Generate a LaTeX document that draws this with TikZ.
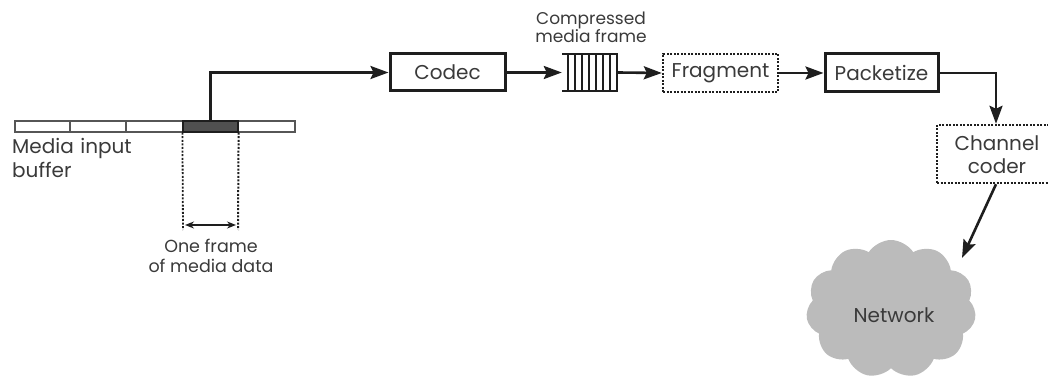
\documentclass[tikz,border=0pt]{standalone}
\usepackage{fontspec}
\setmainfont{Poppins}
\usetikzlibrary{arrows.meta,shapes.symbols}
\definecolor{ink}{HTML}{1E1E1E}
\definecolor{txt}{HTML}{3A3A3A}
\definecolor{cloudgray}{HTML}{BBBBBB}
\begin{document}
\begin{tikzpicture}[x=1pt,y=-1pt,
  every node/.style={text=txt, font=\fontsize{20}{22}\selectfont, inner sep=0pt},
  arr/.style={draw=ink, line width=2.6pt, -{Stealth[length=18pt,width=13pt,inset=3pt]}},
  solidbox/.style={draw=ink, line width=3pt, rectangle},
  dotbox/.style={draw=ink, line width=2.4pt, dash pattern=on 2pt off 1.5pt, rectangle},
  dotline/.style={draw=ink, line width=2pt, dash pattern=on 2pt off 1.6pt},
  small/.style={font=\fontsize{17}{17}\selectfont, align=center},
  lbl/.style={font=\fontsize{20}{24}\selectfont, align=left}]
\useasboundingbox (0,0) rectangle (1048,379);
\clip (0,0) rectangle (1048,379);

% media input buffer
\node[draw=ink!75, line width=1.6pt, minimum width=280, minimum height=11] (buf) at (155,126.5) {};
\draw[ink!75, line width=1.8pt] (70,121) -- (70,132) (126,121) -- (126,132);
\node[fill=ink!78, draw=ink, line width=1.2pt, minimum width=55, minimum height=11] (frm) at (210.5,126.5) {};
\node[lbl, anchor=north west, text width=160] (buflbl) at (12,138) {Media input\\buffer};

% frame extent markers
\coordinate (dl) at (183,230);
\coordinate (dr) at (238,230);
\draw[dotline, line width=1.8pt] (frm.south west) -- (dl);
\draw[dotline] (frm.south east) -- (dr);
\draw[ink, line width=1.5pt, {Stealth[length=9pt,width=7pt]}-{Stealth[length=9pt,width=7pt]}] (185,225) -- (236,225);
\node[small, font=\fontsize{17.5}{20}\selectfont] (framelbl) at (211,256) {One frame\\of media data};

% processing chain
\node[solidbox, minimum width=115, minimum height=37] (codec) at (447.5,72.5) {Codec};
\node[minimum width=56, minimum height=37] (cmf) at (590,72.5) {};
\draw[ink, line width=2pt] (562,54) -- (618,54) (562,91) -- (618,91);
\foreach \x in {568,575,582,589,596,603,610,617}
  \draw[ink, line width=1.7pt] (\x,54) -- (\x,91);
\node[small] (cmflbl) at (591,27) {Compressed\\media frame};
\node[dotbox, minimum width=115, minimum height=38] (frag) at (720.5,73) {Fragment};
\node[solidbox, minimum width=113, minimum height=38] (pack) at (881.5,73) {Packetize};
\node[dotbox, minimum width=118, minimum height=58] (cc) at (996,154) {};
\node[align=center, font=\fontsize{20}{23}\selectfont] (cctxt) at (997,155) {Channel\\coder};

% network cloud
\node[cloud, cloud puffs=11, cloud puff arc=115, aspect=1.2, fill=cloudgray, draw=none,
      minimum width=170, minimum height=138] (net) at (891,309) {};
\node (nettxt) at (894,315) {Network};
\coordinate (netin) at (962,258);

% connectors
\draw[arr] (frm.north) |- (codec.west);
\draw[arr] (codec.east) -- (cmf.west);
\draw[arr] (cmf.east) -- (frag.west);
\draw[arr] (frag.east) -- (pack.west);
\draw[arr] (pack.east) -| (cc.north);
\draw[arr] (cc.south) -- (netin);
\end{tikzpicture}
\end{document}
